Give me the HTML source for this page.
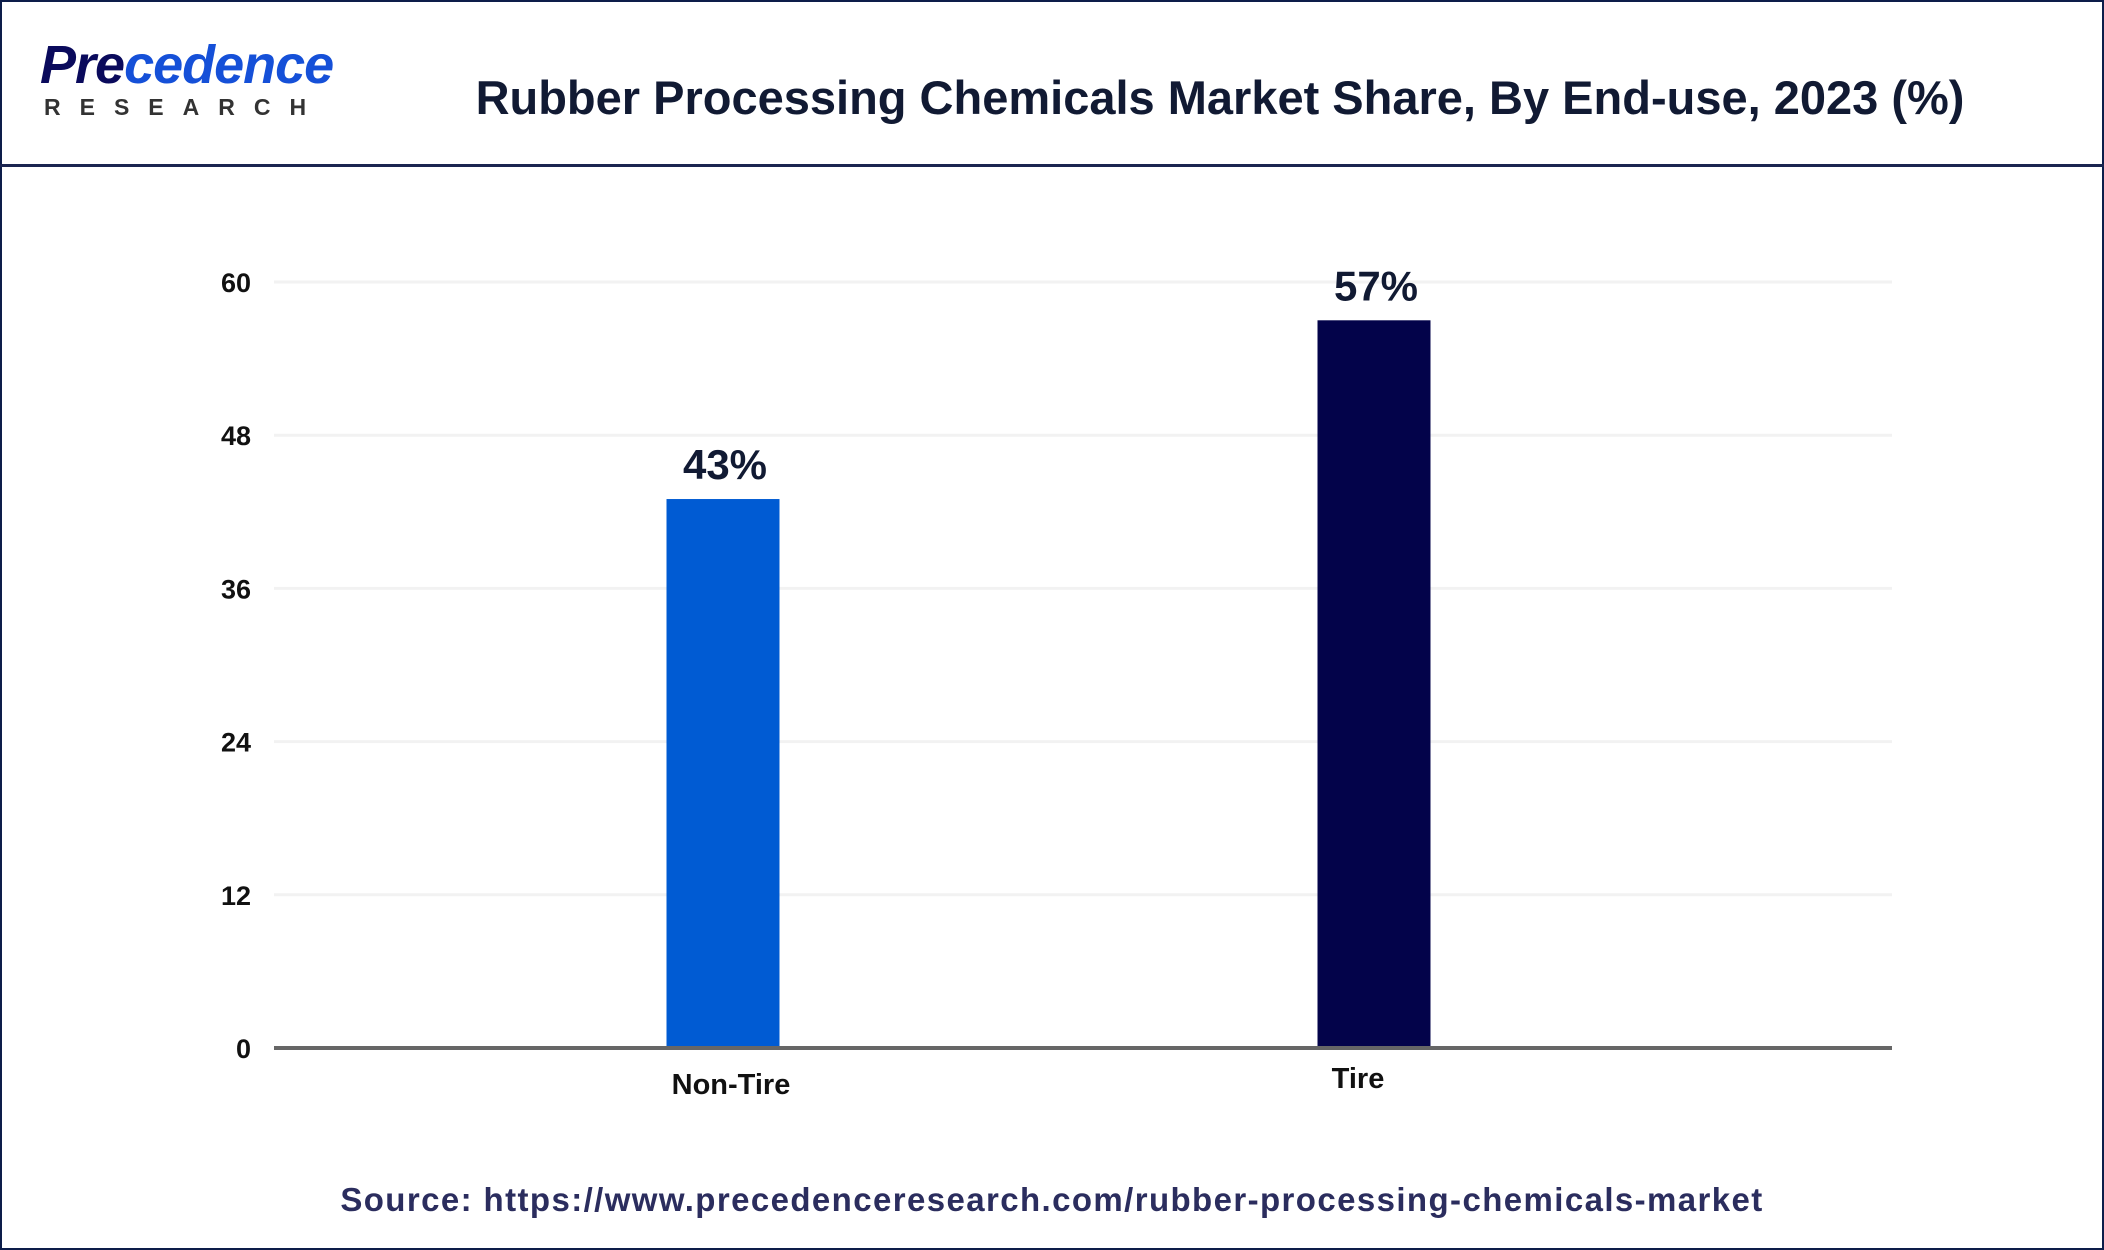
<!DOCTYPE html>
<html><head><meta charset="utf-8"><style>
body{margin:0;width:2104px;height:1250px;background:#fff;font-family:"Liberation Sans",sans-serif;overflow:hidden}
#frame{position:absolute;left:0;top:0;width:2100px;height:1246px;border:2px solid #0d1d4a}
#hdr{position:absolute;left:0;top:164px;width:2104px;height:3px;background:#1b2550}
</style></head><body>
<div id="frame"></div>
<div style="position:absolute;left:40px;top:36px">
 <div style="font-size:54px;font-weight:bold;font-style:italic;color:#0a0a5c;letter-spacing:-1px;line-height:58px">Pre<span style="color:#1550d8">cedence</span></div>
 <div style="font-size:23px;font-weight:bold;color:#333;letter-spacing:19px;margin-top:0px;padding-left:4px">RESEARCH</div>
</div>
<div style="position:absolute;left:420px;width:1600px;top:70px;text-align:center;font-size:47px;font-weight:bold;color:#111a33">Rubber Processing Chemicals Market Share, By End-use, 2023 (%)</div>
<div id="hdr"></div>
<svg id="chart" width="2104" height="1250" style="position:absolute;left:0;top:0"></svg>
<div style="position:absolute;left:0;width:2104px;top:1181px;text-align:center;font-size:33px;font-weight:bold;color:#2b2d5e;letter-spacing:1.4px">Source: https://www.precedenceresearch.com/rubber-processing-chemicals-market</div>
<script>
const categories=["Non-Tire","Tire"];
const values=[43,57];
const valueLabels=["43%","57%"];
const ticks=[0,12,24,36,48,60];
const colors=["#005bd3","#03034a"];
const NS="http://www.w3.org/2000/svg";
const svg=document.getElementById('chart');
const x0=274,x1=1892,y0=1048,y1=282,ymax=60;
const yScale=v=>y0-(v/ymax)*(y0-y1);
const xCenter=i=>[723,1374][i];
function mk(t,a){const e=document.createElementNS(NS,t);for(const k in a)e.setAttribute(k,a[k]);svg.appendChild(e);return e;}
ticks.forEach(t=>{
 const y=yScale(t);
 if(t>0){const g=mk('line',{x1:x0,x2:x1,y1:y,y2:y,stroke:'#f2f2f2','stroke-width':3});
 
 }
 const l=mk('text',{x:251,y:y+10,'text-anchor':'end','font-size':27,'font-weight':'bold',fill:'#111','font-family':'Liberation Sans'});
 l.textContent=t;
 
 
});
const ax=mk('line',{x1:x0,x2:x1,y1:y0,y2:y0,stroke:'#666','stroke-width':4});


const bw=113;
categories.forEach((c,i)=>{
 const cx=xCenter(i),y=yScale(values[i]);
 const r=mk('rect',{x:cx-bw/2,y:y,width:bw,height:y0-2-y,fill:colors[i]});
 
 
 const v=mk('text',{x:cx+2,y:y-20,'text-anchor':'middle','font-size':42,'font-weight':'bold',fill:'#111a33','font-family':'Liberation Sans'});
 v.textContent=valueLabels[i];
 
 
 const cl=mk('text',{x:cx+[8,-16][i],y:[1094,1088][i],'text-anchor':'middle','font-size':29,'font-weight':'bold',fill:'#111','font-family':'Liberation Sans'});
 cl.textContent=c;
 
 
});
</script>
</body></html>
